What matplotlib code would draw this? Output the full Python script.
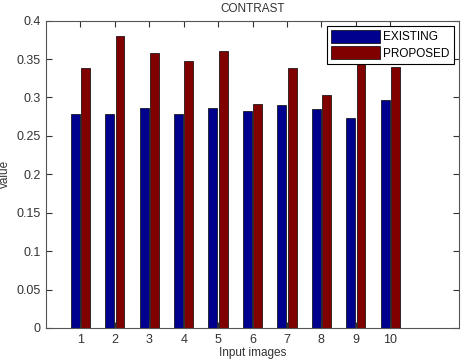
import numpy as np
import matplotlib
matplotlib.use("Agg")
from matplotlib import pyplot as plt

# values
images = [1, 2, 3, 4, 5, 6, 7, 8, 9, 10]
existing = [0.279, 0.279, 0.286, 0.279, 0.286, 0.282, 0.290, 0.285, 0.273, 0.297]
proposed = [0.338, 0.380, 0.358, 0.348, 0.360, 0.292, 0.339, 0.303, 0.365, 0.340]
yticks = [0, 0.05, 0.1, 0.15, 0.2, 0.25, 0.3, 0.35, 0.4]
ytick_labels = ["0", "0.05", "0.1", "0.15", "0.2", "0.25", "0.3", "0.35", "0.4"]

plt.rcParams['font.family'] = ['Liberation Sans', 'DejaVu Sans']
plt.rcParams['font.size'] = 8

fig = plt.figure(figsize=(4.69, 3.62), dpi=100)
fig.patch.set_facecolor('white')
ax = fig.add_axes([0.098, 0.094, 0.881, 0.849])

x = np.array(images)
w = 0.26
ax.bar(x - 0.15, existing, w, color='#00008f', edgecolor='black', linewidth=0.5, label='EXISTING')
ax.bar(x + 0.15, proposed, w, color='#800000', edgecolor='black', linewidth=0.5, label='PROPOSED')

ax.set_xlim(0, 12)
ax.set_ylim(0, 0.4)
ax.set_xticks(images)
ax.set_yticks(yticks)
ax.set_yticklabels(ytick_labels)
ax.tick_params(direction='in', top=True, right=True, length=4, colors='#333333', labelsize=9, pad=4)
for s in ax.spines.values():
    s.set_color('#555555')

ax.set_title('CONTRAST', fontsize=8.5, color='#333333', pad=6.5)
ax.set_xlabel('Input images', fontsize=8.5, color='#333333')
ax.xaxis.set_label_coords(0.5, -0.063)
ax.set_ylabel('value', fontsize=8.5, color='#333333')
ax.yaxis.set_label_coords(-0.085, 0.5)

leg = ax.legend(loc='upper right', fancybox=False, framealpha=1, edgecolor='black',
                handlelength=4.1, handleheight=1.3, borderaxespad=0.45,
                labelspacing=0.25, handletextpad=0.3, borderpad=0.35, fontsize=8.5)
leg.get_frame().set_linewidth(0.8)

plt.savefig('out.png', dpi=100)
